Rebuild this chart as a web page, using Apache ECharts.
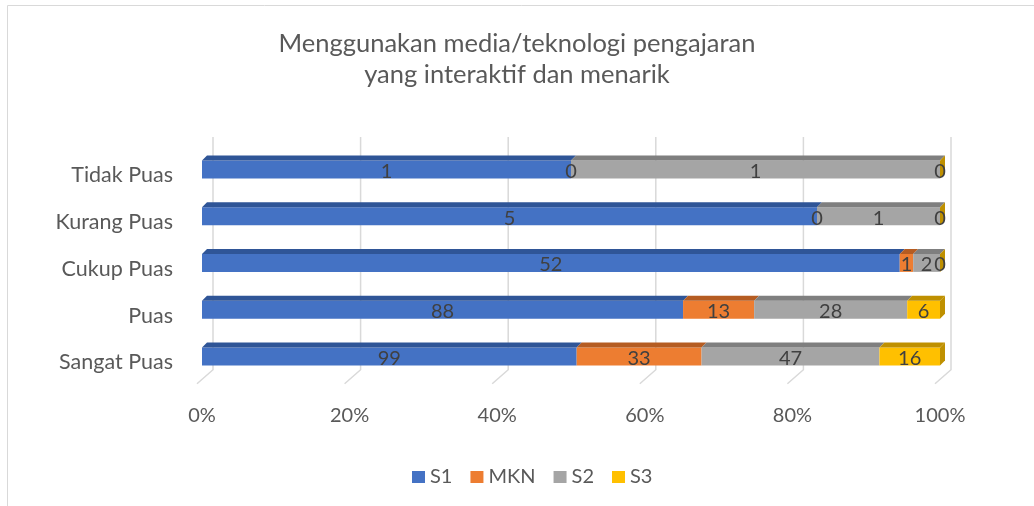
<!DOCTYPE html>
<html>
<head>
<meta charset="utf-8">
<script src="https://cdn.jsdelivr.net/npm/echarts@6/dist/echarts.min.js"></script>
<style>
  html, body { margin: 0; padding: 0; background: #fff; }
  #main { width: 1034px; height: 506px; }
</style>
</head>
<body>
<div id="main"></div>
<script>
// data
var categories = ['Sangat Puas', 'Puas', 'Cukup Puas', 'Kurang Puas', 'Tidak Puas'];
var seriesNames = ['S1', 'MKN', 'S2', 'S3'];
var s1 = [99, 88, 52, 5, 1];
var mkn = [33, 13, 1, 0, 0];
var s2 = [47, 28, 2, 1, 1];
var s3 = [16, 6, 0, 0, 0];
var tickValues = [0, 20, 40, 60, 80, 100];

// styles
var colors = ['#4472C4', '#ED7D31', '#A5A5A5', '#FFC000'];
var topColors = ['#2F5597', '#B55C22', '#7F7F7F', '#BF9000'];
var font = 'Lato, Carlito, sans-serif';

var values = [s1, mkn, s2, s3];

// 100% stacking: [start%, end%, category index, raw value]
var stacked = values.map(function () { return []; });
categories.forEach(function (c, i) {
  var total = 0;
  values.forEach(function (arr) { total += arr[i]; });
  var acc = 0;
  values.forEach(function (arr, k) {
    var start = acc / total * 100;
    acc += arr[i];
    stacked[k].push([start, acc / total * 100, i, arr[i]]);
  });
});

function barRenderer(k) {
  return function (params, api) {
    var a = api.coord([api.value(0), api.value(2)]);
    var b = api.coord([api.value(1), api.value(2)]);
    var h = 18, dx = 5, dy = 5;
    var y0 = a[1] - h / 2;
    var x0 = a[0], x1 = b[0];
    var children = [
      { type: 'rect', shape: { x: x0, y: y0, width: x1 - x0, height: h }, style: { fill: colors[k] } },
      { type: 'polygon', shape: { points: [[x0, y0], [x0 + dx, y0 - dy], [x1 + dx, y0 - dy], [x1, y0]] }, style: { fill: topColors[k] } }
    ];
    if (k === values.length - 1) {
      children.push({ type: 'polygon', shape: { points: [[x1, y0], [x1 + dx, y0 - dy], [x1 + dx, y0 + h - dy], [x1, y0 + h]] }, style: { fill: topColors[k] } });
    }
    children.push({
      type: 'text', z2: 100,
      style: { x: (x0 + x1) / 2, y: a[1] + 2, text: String(api.value(3)), fill: '#404040', font: '20px ' + font, align: 'center', verticalAlign: 'middle' }
    });
    return { type: 'group', children: children };
  };
}

function gridRenderer(params, api) {
  var cs = params.coordSys;
  var p = api.coord([api.value(0), 0]);
  var bx = p[0] + 11;
  return {
    type: 'polyline',
    shape: { points: [[bx, cs.y - 9], [bx, cs.y + cs.height - 10], [bx - 16, cs.y + cs.height + 4]] },
    style: { stroke: '#D9D9D9', lineWidth: 1.5, fill: 'none' }
  };
}

var chart = echarts.init(document.getElementById('main'));
var series = [{
  type: 'custom',
  name: 'grid3d',
  renderItem: gridRenderer,
  data: tickValues.map(function (v) { return [v]; }),
  encode: { x: 0 },
  silent: true,
  z: 1
}];
seriesNames.forEach(function (n, k) {
  series.push({
    type: 'custom',
    name: n,
    renderItem: barRenderer(k),
    itemStyle: { color: colors[k] },
    data: stacked[k],
    encode: { x: [0, 1], y: 2 },
    z: 2
  });
});

chart.setOption({
  animation: false,
  textStyle: { fontFamily: font },
  title: {
    text: 'Menggunakan media/teknologi pengajaran\nyang interaktif dan menarik',
    left: 'center',
    top: 23,
    textStyle: { fontSize: 25.5, fontWeight: 'normal', color: '#595959', lineHeight: 31, fontFamily: font }
  },
  graphic: [{
    type: 'rect',
    shape: { x: 7.5, y: 5.5, width: 1100, height: 600 },
    style: { fill: 'none', stroke: '#D9D9D9', lineWidth: 1 },
    silent: true
  }],
  legend: {
    data: seriesNames,
    top: 462,
    left: 407,
    icon: 'rect',
    itemWidth: 13,
    itemHeight: 12,
    itemGap: 18,
    textStyle: { fontSize: 20, color: '#595959', fontFamily: font }
  },
  grid: { left: 202, right: 94, top: 146, height: 233.75 },
  xAxis: {
    type: 'value',
    min: 0,
    max: 100,
    interval: 20,
    axisLine: { show: false },
    axisTick: { show: false },
    splitLine: { show: false },
    axisLabel: { formatter: '{value}%', fontSize: 20, color: '#595959', margin: 26 }
  },
  yAxis: {
    type: 'category',
    data: categories,
    axisLine: { show: false },
    axisTick: { show: false },
    axisLabel: { fontSize: 21.5, color: '#595959', margin: 29, verticalAlign: 'top', lineHeight: 12 }
  },
  series: series
});
</script>
</body>
</html>
